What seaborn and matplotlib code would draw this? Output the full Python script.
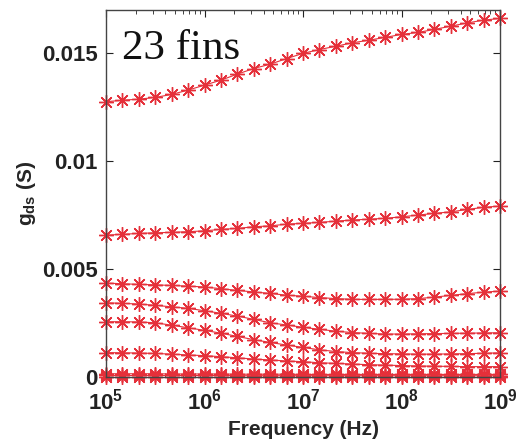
import numpy as np
import pandas as pd
import matplotlib
matplotlib.use("Agg")
import matplotlib.pyplot as plt
import seaborn as sns

# Frequency sweep (Hz), 6 points per decade
freq = np.logspace(5, 9, 25)

# gds (S) curves
gds_1 = [0.01275, 0.01282, 0.01287, 0.01295, 0.01309, 0.01329, 0.01352, 0.01375, 0.01403,
         0.01429, 0.01449, 0.01475, 0.01499, 0.01517, 0.01532, 0.01548, 0.01560, 0.01573,
         0.01587, 0.01596, 0.01610, 0.01625, 0.01640, 0.01653, 0.01661]
gds_2 = [0.00657, 0.00661, 0.00665, 0.00668, 0.00670, 0.00673, 0.00677, 0.00684, 0.00688,
         0.00696, 0.00700, 0.00708, 0.00712, 0.00716, 0.00722, 0.00727, 0.00731, 0.00735,
         0.00742, 0.00750, 0.00758, 0.00765, 0.00776, 0.00786, 0.00792]
gds_3 = [0.00435, 0.00432, 0.00429, 0.00427, 0.00424, 0.00421, 0.00417, 0.00409, 0.00401,
         0.00394, 0.00387, 0.00379, 0.00374, 0.00368, 0.00363, 0.00360, 0.00359, 0.00360,
         0.00360, 0.00363, 0.00370, 0.00378, 0.00386, 0.00393, 0.00398]
gds_4 = [0.00344, 0.00341, 0.00338, 0.00332, 0.00325, 0.00318, 0.00307, 0.00295, 0.00282,
         0.00267, 0.00251, 0.00241, 0.00230, 0.00221, 0.00212, 0.00206, 0.00202, 0.00199,
         0.00199, 0.00200, 0.00201, 0.00202, 0.00203, 0.00204, 0.00205]
gds_5 = [0.00256, 0.00256, 0.00255, 0.00251, 0.00240, 0.00228, 0.00216, 0.00203, 0.00188,
         0.00173, 0.00160, 0.00148, 0.00137, 0.00126, 0.00118, 0.00113, 0.00110, 0.00108,
         0.00107, 0.00106, 0.00106, 0.00107, 0.00108, 0.00110, 0.00112]
gds_6 = [0.00113, 0.00112, 0.00111, 0.00109, 0.00106, 0.00102, 0.00099, 0.00094, 0.00089,
         0.00083, 0.00079, 0.00074, 0.00071, 0.00066, 0.00063, 0.00060, 0.00057, 0.00055,
         0.00053, 0.00051, 0.00050, 0.00049, 0.00048, 0.00048, 0.00048]
gds_7 = [0.00015, 0.00015, 0.00015, 0.00015, 0.00014, 0.00014, 0.00014, 0.00014, 0.00013,
         0.00013, 0.00013, 0.00013, 0.00012, 0.00012, 0.00012, 0.00012, 0.00012, 0.00012,
         0.00012, 0.00012, 0.00012, 0.00012, 0.00012, 0.00012, 0.00012]
gds_8 = [0.00007, 0.00007, 0.00007, 0.00007, 0.00007, 0.00007, 0.00007, 0.00007, 0.00006,
         0.00006, 0.00006, 0.00006, 0.00006, 0.00006, 0.00006, 0.00006, 0.00006, 0.00006,
         0.00006, 0.00006, 0.00006, 0.00006, 0.00006, 0.00006, 0.00006]
gds_9 = [0.00002, 0.00002, 0.00002, 0.00002, 0.00002, 0.00002, 0.00002, 0.00002, 0.00002,
         0.00002, 0.00002, 0.00002, 0.00002, 0.00002, 0.00002, 0.00002, 0.00002, 0.00002,
         0.00002, 0.00002, 0.00002, 0.00002, 0.00002, 0.00002, 0.00002]

curves = [gds_1, gds_2, gds_3, gds_4, gds_5, gds_6, gds_7, gds_8, gds_9]

xticks = [1e5, 1e6, 1e7, 1e8, 1e9]
xtick_labels = [r"$10^{5}$", r"$10^{6}$", r"$10^{7}$", r"$10^{8}$", r"$10^{9}$"]
yticks = [0, 0.005, 0.01, 0.015]
ytick_labels = ["0", "0.005", "0.01", "0.015"]

# long-form table for seaborn
rows = []
for k, vals in enumerate(curves):
    for f, g in zip(freq, vals):
        rows.append({"freq": f, "gds": g, "curve": k})
df = pd.DataFrame(rows)

sns.set_theme(style="ticks")
plt.rcParams["font.family"] = ["Liberation Sans", "DejaVu Sans"]
plt.rcParams["mathtext.fontset"] = "custom"
plt.rcParams["mathtext.rm"] = "Liberation Sans:bold"
plt.rcParams["mathtext.it"] = "Liberation Sans:bold"
plt.rcParams["mathtext.bf"] = "Liberation Sans:bold"

red = "#e5303a"
fig = plt.figure(figsize=(5.16, 4.47), dpi=100)
ax = fig.add_axes([106 / 516, 70 / 447, 394 / 516, 367 / 447])

sns.lineplot(data=df, x="freq", y="gds", hue="curve", palette=[red] * len(curves),
             estimator=None, legend=False, ax=ax, marker=(8, 2, 0), markersize=10.5,
             markeredgewidth=1.0, markeredgecolor=red, linewidth=0.8, clip_on=False)

ax.set_xscale("log")
ax.set_xlim(1e5, 1e9)
ax.set_ylim(0, 0.017)
ax.set_xticks(xticks)
ax.set_xticklabels(xtick_labels)
ax.set_yticks(yticks)
ax.set_yticklabels(ytick_labels)

for lab in ax.get_xticklabels() + ax.get_yticklabels():
    lab.set_fontsize(16)
    lab.set_fontweight("bold")

ax.tick_params(which="both", direction="in", top=True, right=True, colors="#222222")
ax.tick_params(which="major", length=5, width=0.8)
ax.tick_params(which="minor", length=3, width=0.6)
ax.tick_params(axis="y", which="major", pad=6)
ax.tick_params(axis="x", which="major", pad=8)
for sp in ax.spines.values():
    sp.set_visible(True)
    sp.set_color("#444444")
    sp.set_linewidth(1.0)

ax.set_xlabel("Frequency (Hz)", fontsize=15, fontweight="bold")
ax.xaxis.set_label_coords(0.5, -0.117)
ax.set_ylabel(r"$\mathrm{g_{ds}}$ (S)", fontsize=15, fontweight="bold")
ax.yaxis.set_label_coords(-0.173, 0.5)

ax.text(0.04, 0.866, "23 fins", transform=ax.transAxes, fontsize=31,
        family="Liberation Serif", va="baseline", ha="left", color="#111111")

fig.savefig("out.png", dpi=100)
